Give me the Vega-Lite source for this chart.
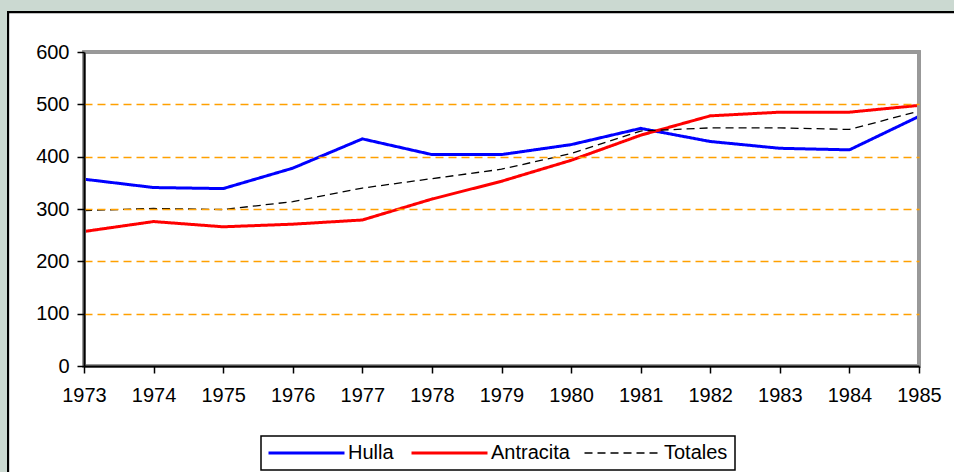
{
  "$schema": "https://vega.github.io/schema/vega-lite/v6.json",
  "width": 835,
  "height": 314,
  "autosize": {"type": "none"},
  "padding": {"left": 84, "top": 52, "right": 35, "bottom": 106},
  "background": "#cbd9d1",
  "config": {
    "view": {"stroke": null},
    "font": "Liberation Sans",
    "axis": {"labelFont": "Liberation Sans", "labelColor": "#000000", "labelFontSize": 20, "title": null,
      "domainColor": "#000000", "domainWidth": 2, "tickColor": "#000000", "tickWidth": 1.5, "tickSize": 7},
    "axisX": {"grid": false, "labelPadding": 12, "labelFlush": false},
    "axisY": {"grid": true, "gridColor": "#ffa000", "gridDash": [8, 5], "gridWidth": 1.5, "labelPadding": 8},
    "legend": {"labelFont": "Liberation Sans", "labelColor": "#000000", "strokeWidth": 1.5}
  },
  "data": {
    "values": [
      {"year": 1973, "serie": "Hulla", "value": 357},
      {"year": 1974, "serie": "Hulla", "value": 341},
      {"year": 1975, "serie": "Hulla", "value": 339},
      {"year": 1976, "serie": "Hulla", "value": 378},
      {"year": 1977, "serie": "Hulla", "value": 434},
      {"year": 1978, "serie": "Hulla", "value": 404},
      {"year": 1979, "serie": "Hulla", "value": 404},
      {"year": 1980, "serie": "Hulla", "value": 423},
      {"year": 1981, "serie": "Hulla", "value": 454},
      {"year": 1982, "serie": "Hulla", "value": 429},
      {"year": 1983, "serie": "Hulla", "value": 416},
      {"year": 1984, "serie": "Hulla", "value": 413},
      {"year": 1985, "serie": "Hulla", "value": 477},
      {"year": 1973, "serie": "Antracita", "value": 257},
      {"year": 1974, "serie": "Antracita", "value": 276},
      {"year": 1975, "serie": "Antracita", "value": 266},
      {"year": 1976, "serie": "Antracita", "value": 271},
      {"year": 1977, "serie": "Antracita", "value": 279},
      {"year": 1978, "serie": "Antracita", "value": 319},
      {"year": 1979, "serie": "Antracita", "value": 353},
      {"year": 1980, "serie": "Antracita", "value": 393},
      {"year": 1981, "serie": "Antracita", "value": 441},
      {"year": 1982, "serie": "Antracita", "value": 478},
      {"year": 1983, "serie": "Antracita", "value": 485},
      {"year": 1984, "serie": "Antracita", "value": 485},
      {"year": 1985, "serie": "Antracita", "value": 498},
      {"year": 1973, "serie": "Totales", "value": 297},
      {"year": 1974, "serie": "Totales", "value": 301},
      {"year": 1975, "serie": "Totales", "value": 299},
      {"year": 1976, "serie": "Totales", "value": 314},
      {"year": 1977, "serie": "Totales", "value": 340},
      {"year": 1978, "serie": "Totales", "value": 358},
      {"year": 1979, "serie": "Totales", "value": 376},
      {"year": 1980, "serie": "Totales", "value": 406},
      {"year": 1981, "serie": "Totales", "value": 449},
      {"year": 1982, "serie": "Totales", "value": 455},
      {"year": 1983, "serie": "Totales", "value": 455},
      {"year": 1984, "serie": "Totales", "value": 452},
      {"year": 1985, "serie": "Totales", "value": 487}
    ]
  },
  "layer": [
    {
      "mark": {"type": "rect", "fill": "#ffffff", "stroke": "#000000", "strokeWidth": 2, "clip": false},
      "encoding": {
        "x": {"datum": 1971.91, "type": "quantitative"},
        "x2": {"datum": 1987},
        "y": {"datum": 676, "type": "quantitative"},
        "y2": {"datum": -300}
      }
    },
    {
      "mark": {"type": "line", "clip": false},
      "encoding": {
        "x": {
          "field": "year", "type": "quantitative",
          "scale": {"domain": [1973, 1985], "nice": false, "zero": false},
          "axis": {
            "zindex": 2, "values": [1973,1974,1975,1976,1977,1978,1979,1980,1981,1982,1983,1984,1985],
            "format": "d"
          }
        },
        "y": {
          "field": "value", "type": "quantitative",
          "scale": {"domain": [0, 600], "nice": false},
          "axis": {
            "zindex": 2, "values": [0,100,200,300,400,500,600],
            "gridColor": "#ffa000",
            "gridOpacity": {"condition": {"test": "datum.value === 0 || datum.value === 600", "value": 0}, "value": 1}
          }
        },
        "color": {
          "field": "serie", "type": "nominal",
          "scale": {"domain": ["Hulla", "Antracita", "Totales"], "range": ["#0000ff", "#ff0000", "#000000"]},
          "legend": {
            "title": null, "orient": "none", "legendX": 177, "legendY": 384, "direction": "horizontal",
            "strokeColor": "#000000", "fillColor": "#ffffff", "padding": 7,
            "symbolType": "M-1,0H7", "symbolSize": 361, "labelFontSize": 20, "labelOffset": 60,
            "columnPadding": 11, "symbolStrokeWidth": 3,
            "encode": {"symbols": {"update": {"strokeWidth": {"signal": "datum.value === 'Totales' ? 1.4 : 3"}}}}
          }
        },
        "strokeDash": {
          "field": "serie", "type": "nominal",
          "scale": {"domain": ["Hulla", "Antracita", "Totales"], "range": [[1, 0], [1, 0], [8, 5]]},
          "legend": null
        },
        "strokeWidth": {"condition": {"test": "datum.serie === 'Totales'", "value": 1.3}, "value": 3}
      }
    },
    {
      "mark": {"type": "rect", "fill": null, "fillOpacity": 0, "stroke": "#999999", "strokeWidth": 2.5, "clip": false},
      "encoding": {
        "x": {"datum": 1973, "type": "quantitative"},
        "x2": {"datum": 1985},
        "y": {"datum": 600, "type": "quantitative"},
        "y2": {"datum": 0}
      }
    }
  ]
}
